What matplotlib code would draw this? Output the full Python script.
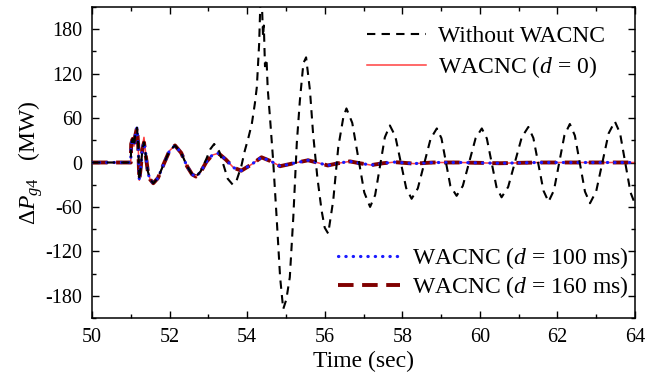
import matplotlib
matplotlib.use("Agg")
import matplotlib.pyplot as plt
from matplotlib.ticker import MultipleLocator

plt.rcParams['font.family'] = ['Liberation Serif', 'DejaVu Serif']
plt.rcParams['mathtext.fontset'] = 'custom'
plt.rcParams['mathtext.rm'] = 'Liberation Serif'
plt.rcParams['mathtext.it'] = 'Liberation Serif:italic'
plt.rcParams['axes.unicode_minus'] = False

# ---- data ----
t_ctrl = [50.0, 51.0, 51.01, 51.05, 51.08, 51.11, 51.16, 51.19, 51.22, 51.26, 51.3, 51.34,
          51.39, 51.44, 51.5, 51.58, 51.7, 51.85, 52.0, 52.14, 52.3, 52.45, 52.58, 52.68,
          52.8, 52.95, 53.1, 53.26, 53.45, 53.65, 53.85, 54.1, 54.37, 54.6, 54.85, 55.2,
          55.57, 55.8, 56.08, 56.35, 56.65, 56.9, 57.2, 57.5, 57.8, 58.3, 58.8, 59.5,
          60.5, 61.5, 62.5, 64.0]
p_d0 = [0, 0, 25, 32, 22, 35, 45, 25, -24, -5, 22, 34, 10, -12, -23, -28, -21, -2, 16, 23,
        13, -5, -16, -19, -13, 1, 10, 12.5, 4, -7, -11, -3, 7, 2, -5, -1, 3, 0, -4, -1,
        1.5, -1, -3.5, -1, 0.5, -1.5, 0, 0, -1, 0, 0, 0]
p_d100 = [0, 0, 25, 32, 22, 35, 47, 25, -24, -5, 20, 27, 10, -14, -23, -28, -21, -2, 16, 23,
          13, -5, -16, -19, -13, 1, 10, 12.5, 4, -7, -11, -3, 7, 2, -5, -1, 3, 0, -4, -1,
          1.5, -1, -3.5, -1, 0.5, -1.5, 0, 0, -1, 0, 0, 0]
p_d160 = [0, 0, 25, 32, 22, 35, 47, 25, -24, -5, 18, 27, 8, -12, -23, -28, -21, -2, 16, 23,
          13, -5, -16, -19, -13, 1, 10, 12.5, 4, -7, -11, -3, 7, 2, -5, -1, 3, 0, -4, -1,
          1.5, -1, -3.5, -1, 0.5, -1.5, 0, 0, -1, 0, 0, 0]

t_nc = [50.0, 51.0, 51.01, 51.05, 51.08, 51.11, 51.16, 51.19, 51.22, 51.26, 51.3, 51.34,
        51.39, 51.44, 51.5, 51.58, 51.7, 51.85, 52.0, 52.14, 52.3, 52.45, 52.58, 52.68,
        52.8, 52.95, 53.05, 53.15, 53.28, 53.4, 53.5, 53.63, 53.73, 53.85, 53.94, 54.03,
        54.12, 54.2, 54.25, 54.31, 54.34, 54.38, 54.41, 54.43, 54.46, 54.5, 54.53, 54.59,
        54.67, 54.76, 54.85, 54.93, 55.01, 55.1, 55.19, 55.28, 55.36, 55.45, 55.52, 55.62,
        55.7, 55.81, 55.92, 56.0, 56.09, 56.22, 56.35, 56.48, 56.56, 56.71, 56.865, 57.02,
        57.17, 57.3, 57.425, 57.55, 57.68, 57.82, 57.96, 58.1, 58.24, 58.4, 58.565, 58.73,
        58.89, 59.01, 59.125, 59.24, 59.4, 59.56, 59.725, 59.89, 60.05, 60.18, 60.305, 60.43,
        60.56, 60.73, 60.905, 61.08, 61.25, 61.38, 61.51, 61.64, 61.77, 61.91, 62.045, 62.18,
        62.32, 62.45, 62.58, 62.71, 62.84, 63.0, 63.16, 63.32, 63.48, 63.615, 63.75, 63.885,
        64.0]
p_nc = [0, 0, 25, 32, 22, 35, 47, 25, -24, -5, 18, 27, 8, -12, -23, -28, -21, -2, 16, 23,
        13, -5, -16, -19, -12, 5, 18, 25, 15, -5, -22, -30, -24, -5, 16, 33, 52, 80, 102, 161,
        215, 215, 170, 185, 130, 140, 100, 60, 3, -74, -155, -198, -185, -155, -74, 26, 84,
        134, 142, 97, 39, -20, -65, -88, -96, -51, 21, 61, 73, 53.5, 6.5, -40.5, -60, -44,
        -5, 34, 50, 35.5, 0.5, -34.5, -49, -35, -1.5, 32, 46, 32.7, 0.5, -31.7, -45, -31.7,
        0.5, 32.7, 46, 32.4, -0.5, -33.4, -47, -33, 0.5, 34, 48, 33, -2.5, -38, -53, -37.6,
        -0.5, 36.6, 52, 36.3, -1.5, -39.3, -55, -38.8, 0.25, 39.3, 55.5, 39.5, -0.75, -40.5,
        -56]

x_ticks = [50, 52, 54, 56, 58, 60, 62, 64]
y_ticks = [-180, -120, -60, 0, 60, 120, 180]

# ---- figure ----
fig = plt.figure(figsize=(6.59, 3.78), dpi=100)
ax = fig.add_axes([92 / 659, 60 / 378, 543 / 659, 311 / 378])

l_d0, = ax.plot(t_ctrl, p_d0, color='#ff4040', lw=1.1, zorder=2)
l_d160, = ax.plot(t_ctrl, p_d160, color='#800000', lw=2.8, dashes=(4.0, 2.2), zorder=3)
l_d100, = ax.plot(t_ctrl, p_d100, color='#1a1aff', lw=2.3, dashes=(0.1, 2.2),
                  dash_capstyle='round', zorder=4)
l_nc, = ax.plot(t_nc, p_nc, color='black', lw=1.5, dashes=(4, 3), zorder=5)

ax.set_xlim(50, 64)
ax.set_ylim(-210, 210)
ax.set_xticks(x_ticks)
ax.set_yticks(y_ticks)
ax.xaxis.set_minor_locator(MultipleLocator(1))
ax.yaxis.set_minor_locator(MultipleLocator(30))
ax.tick_params(which='both', direction='in', top=True, right=True, width=1.0,
               labelsize=14.5)
ax.tick_params(which='major', length=5, pad=7)
ax.tick_params(which='minor', length=3)
for s in ax.spines.values():
    s.set_linewidth(1.1)

ax.set_xlabel('Time (sec)', fontsize=17, labelpad=3)
ax.set_ylabel(r'$\Delta P_{g4}$   (MW)', fontsize=17, labelpad=0)

leg1 = ax.legend([l_nc, l_d0], ['Without WACNC', r'WACNC ($d$ = 0)'],
                 loc='upper right', bbox_to_anchor=(0.97, 0.985), frameon=False,
                 fontsize=17, handlelength=2.5, handletextpad=0.5, labelspacing=0.3,
                 borderaxespad=0.2)
ax.add_artist(leg1)
ax.legend([l_d100, l_d160], [r'WACNC ($d$ = 100 ms)', r'WACNC ($d$ = 160 ms)'],
          loc='lower right', bbox_to_anchor=(1.022, -0.003), frameon=False,
          fontsize=17, handlelength=2.6, handletextpad=0.5, labelspacing=0.12,
          borderaxespad=0.4)

fig.savefig('out.png', dpi=100)
